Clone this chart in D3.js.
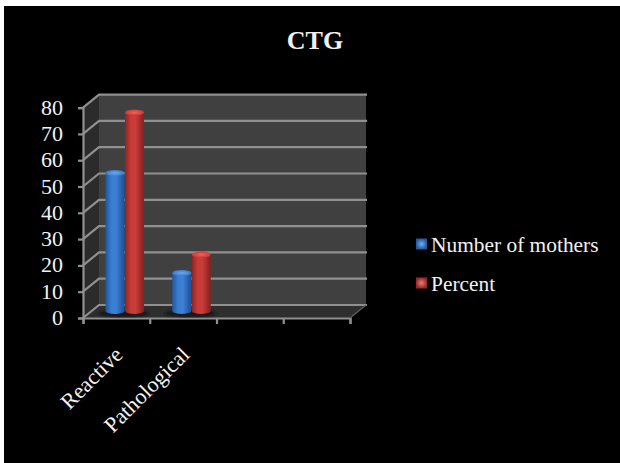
<!DOCTYPE html>
<html>
<head>
<meta charset="utf-8">
<script src="https://cdn.jsdelivr.net/npm/d3@7"></script>
<style>
html,body{margin:0;padding:0;background:#fff;}
svg{display:block;}
text{font-family:"Liberation Serif",serif;fill:#f2f2f2;}
</style>
</head>
<body>
<svg id="chart" width="620" height="463"></svg>
<script>
const categories = ["Reactive", "Pathological", "", ""];
const seriesNames = ["Number of mothers", "Percent"];
const mothers = [54, 16];
const percent = [77, 23];
const yTicks = [0, 10, 20, 30, 40, 50, 60, 70, 80];
const titleText = "CTG";

const svg = d3.select("#chart");
const defs = svg.append("defs");

// Horizontal shading of the cylinders, and a soft glow for their caps.
function cylinderGradient(id, stops) {
  const g = defs.append("linearGradient").attr("id", id);
  stops.forEach(([o, c]) => g.append("stop").attr("offset", o).attr("stop-color", c));
}
cylinderGradient("bodyBlue", [[0, "#1f56a0"], [0.3, "#3a7cd0"], [0.55, "#3d80d4"], [1, "#1d4f96"]]);
cylinderGradient("bodyRed", [[0, "#8e2523"], [0.3, "#c63a36"], [0.55, "#cb3c38"], [1, "#83211f"]]);

function capGradient(id, inner, outer) {
  const g = defs.append("radialGradient").attr("id", id);
  g.append("stop").attr("offset", 0).attr("stop-color", inner);
  g.append("stop").attr("offset", 1).attr("stop-color", outer);
}
capGradient("capBlue", "#6aa8ee", "#3a7ccd");
capGradient("capRed", "#f2625c", "#c93a36");
capGradient("keyBlue", "#6fb0f2", "#23589f");
capGradient("keyRed", "#f27a74", "#93282a");

defs.append("filter").attr("id", "soft").append("feGaussianBlur").attr("stdDeviation", 0.7);
defs.append("filter").attr("id", "shadow").append("feGaussianBlur").attr("stdDeviation", 1.5);

svg.append("rect").attr("x", 4).attr("y", 6).attr("width", 616).attr("height", 457).attr("fill", "#000");

// Scales on the front plane of the box; the back wall is offset by depth.
const depth = { x: 16, y: -13 };
const y = d3.scaleLinear().domain([0, 80]).range([318, 107.6]);
const x = d3.scaleBand().domain(d3.range(categories.length)).range([83, 350]);
const inner = d3.scaleBand().domain([0, 1]).range([0, 39]);

const axisColor = "#909090";
const box = svg.append("g");

// Back wall, side wall and floor
const xL = x.range()[0], xR = x.range()[1];
const yBase = y(0), yTop = y(80);
const poly = (pts, fill) => box.append("polygon").attr("points", pts.map(p => p.join(",")).join(" ")).attr("fill", fill);
poly([[xL + depth.x, yTop + depth.y], [xR + depth.x, yTop + depth.y], [xR + depth.x, yBase + depth.y], [xL + depth.x, yBase + depth.y]], "#404040");
poly([[xL, yTop], [xL + depth.x, yTop + depth.y], [xL + depth.x, yBase + depth.y], [xL, yBase]], "#2b2b2b");
poly([[xL, yBase], [xL + depth.x, yBase + depth.y], [xR + depth.x, yBase + depth.y], [xR, yBase]], "#2e2e2e");

// Gridlines wrap from the side wall across the back wall
yTicks.forEach(t => {
  const py = y(t);
  box.append("path")
    .attr("d", d3.line()([[xL, py], [xL + depth.x, py + depth.y], [xR + depth.x + 1, py + depth.y]]))
    .attr("fill", "none").attr("stroke", axisColor).attr("stroke-width", 2.2);
});

// Front axes with outward ticks
const axisLeft = d3.axisLeft(y).tickValues(yTicks).tickSize(5).tickFormat("");
const axisBottom = d3.axisBottom(d3.scaleLinear().domain([0, 4]).range([xL, xR])).ticks(4).tickSize(6).tickFormat("");
[svg.append("g").attr("transform", `translate(${xL},0)`).call(axisLeft),
 svg.append("g").attr("transform", `translate(0,${yBase})`).call(axisBottom)].forEach(g => {
  g.selectAll("path,line").attr("stroke", axisColor).attr("stroke-width", 2.2);
});
svg.append("line").attr("x1", xR).attr("y1", yBase).attr("x2", xR + depth.x).attr("y2", yBase + depth.y)
  .attr("stroke", "#606060").attr("stroke-width", 1.2);

// Tick labels
svg.append("g").selectAll("text").data(yTicks).join("text")
  .attr("x", 63).attr("y", d => y(d) + 7).attr("text-anchor", "end")
  .attr("font-size", 22).text(d => d);

// Cylinders, standing midway across the floor
const floorShift = { x: 6.5, y: -3 };
const rows = [
  { name: seriesNames[0], values: mothers, body: "url(#bodyBlue)", cap: "url(#capBlue)" },
  { name: seriesNames[1], values: percent, body: "url(#bodyRed)", cap: "url(#capRed)" }
];
const barW = 19, ry = 3;
const bars = svg.append("g").attr("filter", "url(#soft)");

[0, 1].forEach(c => {
  const x0 = x(c) + 16.5;
  bars.append("ellipse")
    .attr("cx", x0 + 24).attr("cy", yBase - 4.5)
    .attr("rx", 26).attr("ry", 3.5).attr("fill", "#141414").attr("filter", "url(#shadow)");
});
rows.forEach((s, si) => {
  const g = bars.append("g");
  s.values.forEach((v, c) => {
    const left = x(c) + 16.5 + inner(si) + floorShift.x - 0.5;
    const top = y(v) + floorShift.y;
    const bottom = yBase - 7;
    g.append("path")
      .attr("d", `M${left},${top}V${bottom}A${barW / 2},${ry} 0 0 0 ${left + barW},${bottom}V${top}Z`)
      .attr("fill", s.body);
    g.append("ellipse")
      .attr("cx", left + barW / 2).attr("cy", top)
      .attr("rx", barW / 2).attr("ry", ry).attr("fill", s.cap);
  });
});

// Rotated category labels
svg.append("g").selectAll("text").data(categories.slice(0, 2)).join("text")
  .attr("text-anchor", "end").attr("font-size", 22)
  .attr("transform", (d, i) => `translate(${x(i) + 41},${yBase + 38}) rotate(-45)`)
  .text(d => d);

// Title
svg.append("text").attr("x", 315).attr("y", 49).attr("text-anchor", "middle")
  .attr("font-size", 26).attr("font-weight", "bold").text(titleText);

// Legend
const legendY = d3.scalePoint().domain(seriesNames).range([244, 283]);
const legend = svg.append("g").selectAll("g").data(seriesNames).join("g")
  .attr("transform", d => `translate(416,${legendY(d)})`);
legend.append("rect").attr("x", 0).attr("y", -5.5).attr("width", 11).attr("height", 11)
  .attr("fill", (d, i) => i === 0 ? "url(#keyBlue)" : "url(#keyRed)").attr("filter", "url(#soft)");
legend.append("text").attr("x", 15).attr("y", 7.5).attr("font-size", 21.4).text(d => d);
</script>
</body>
</html>
